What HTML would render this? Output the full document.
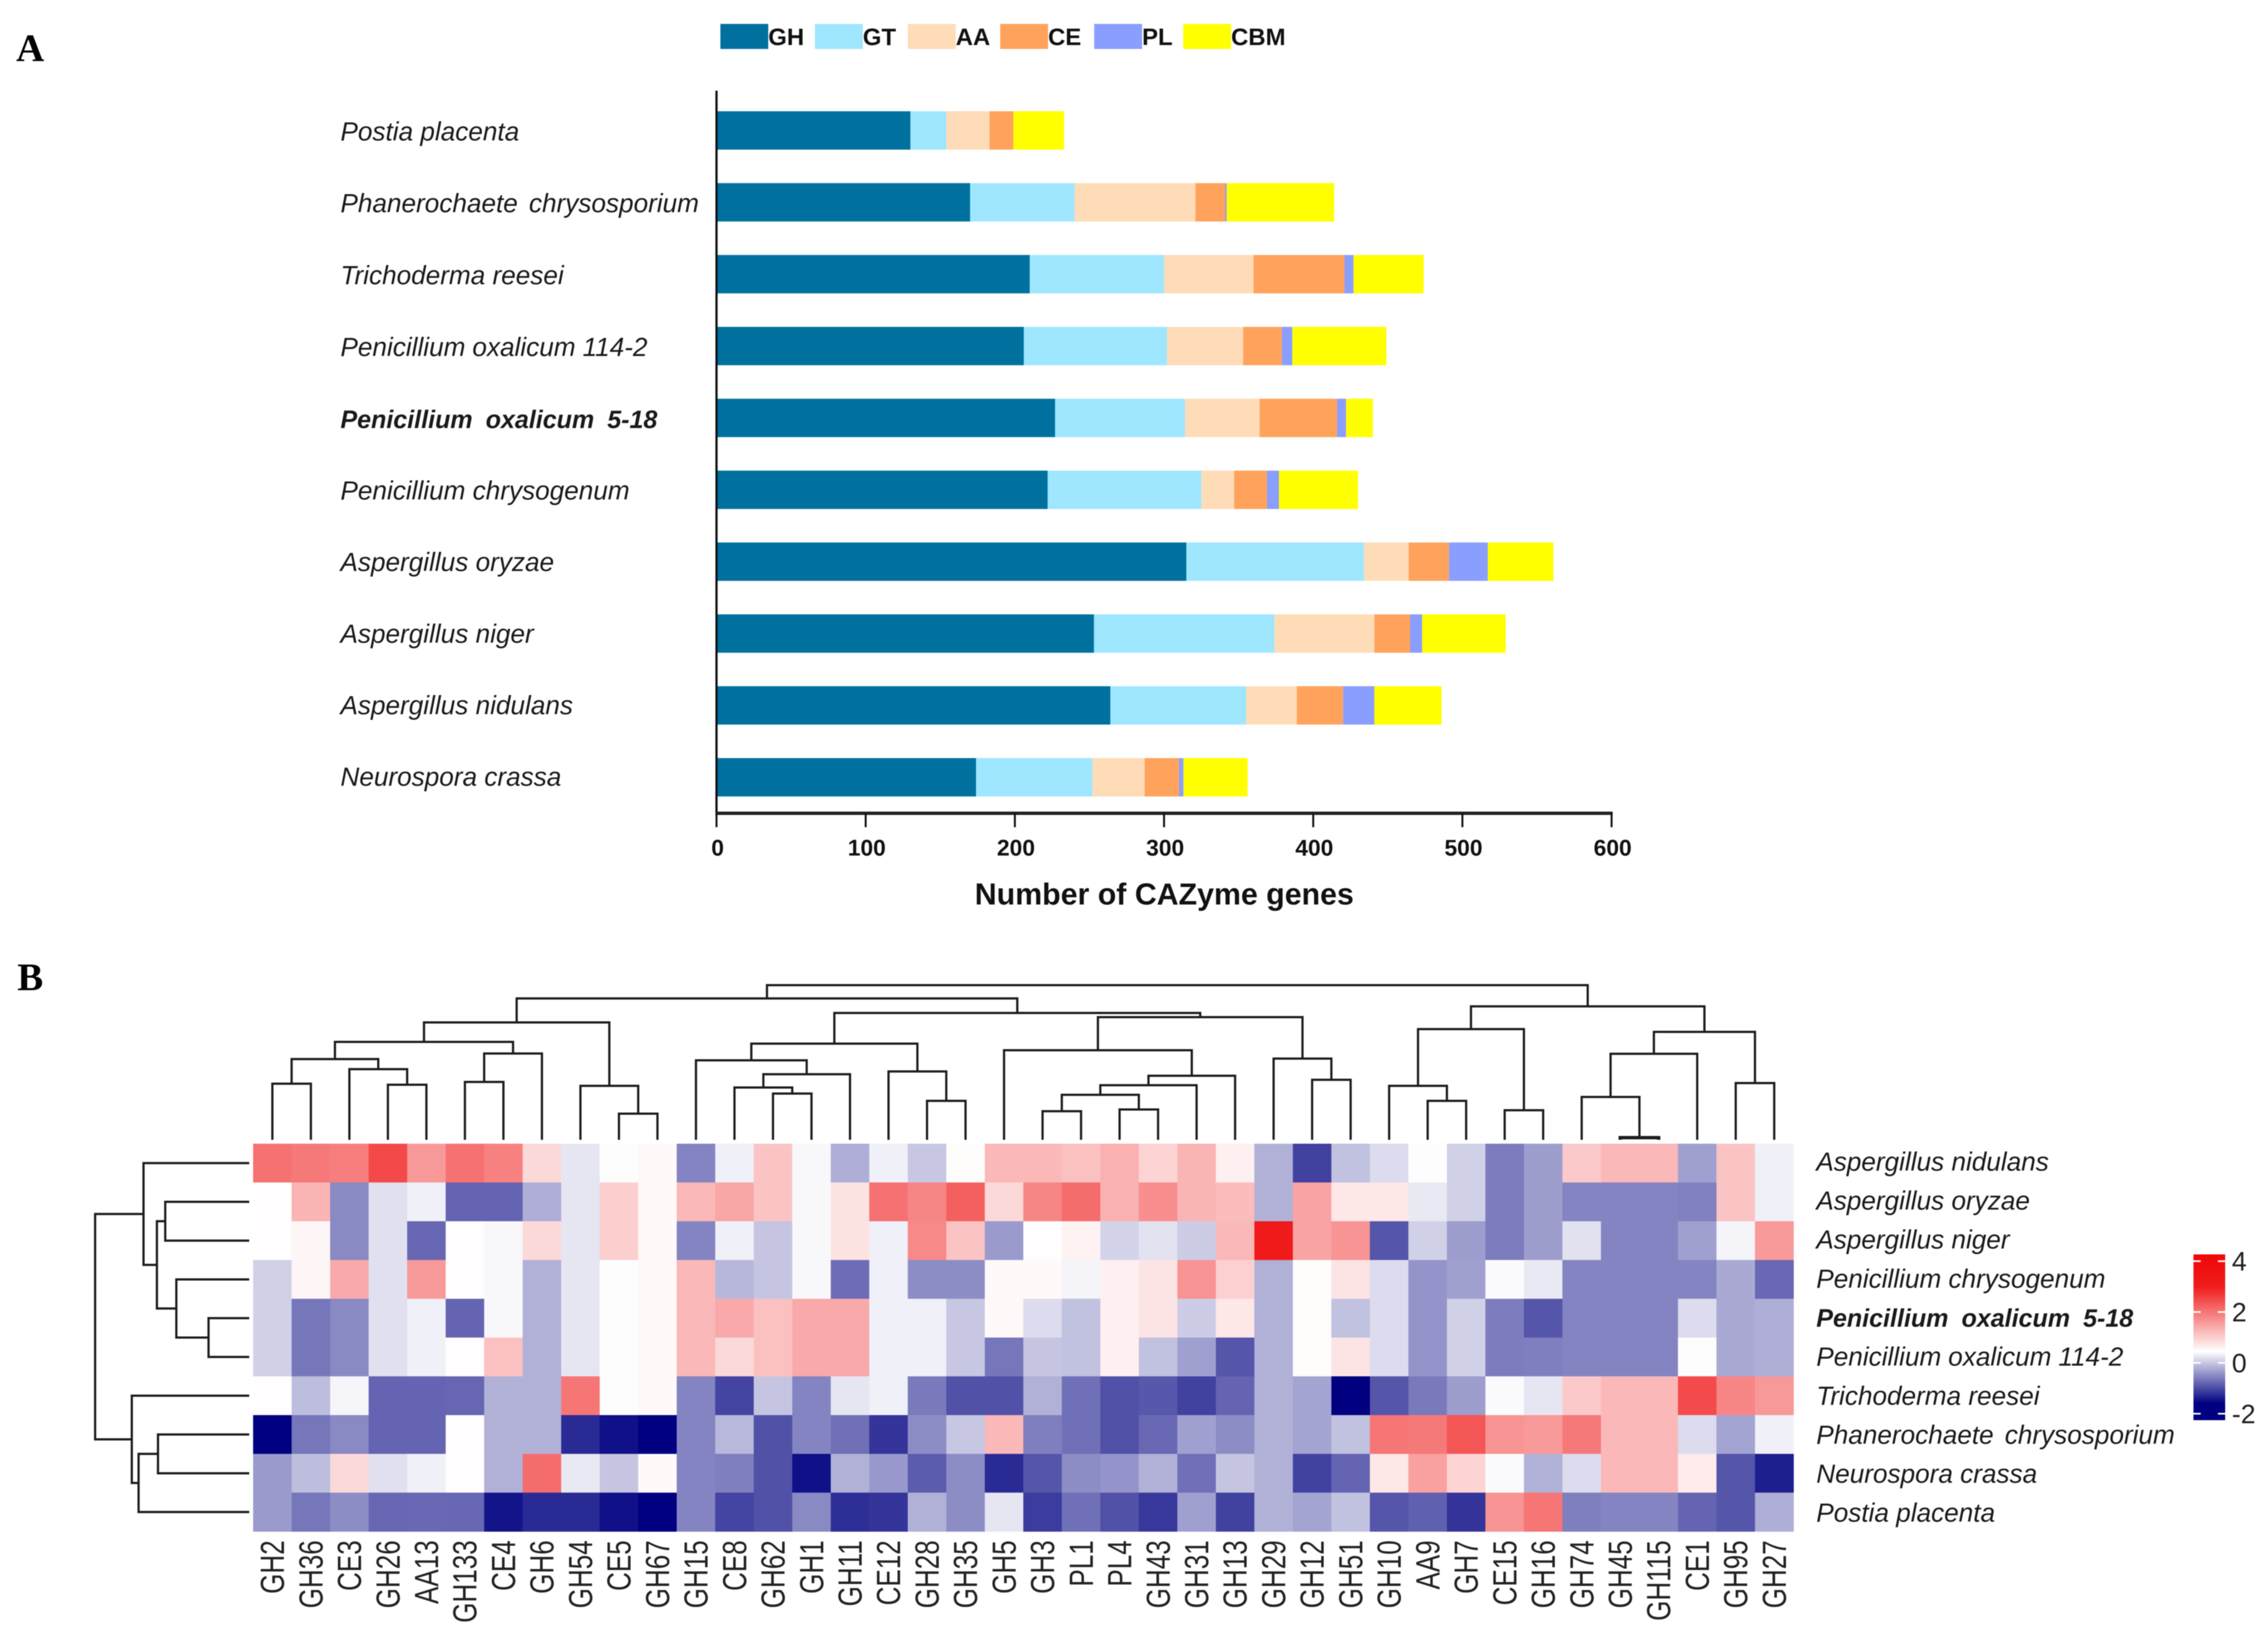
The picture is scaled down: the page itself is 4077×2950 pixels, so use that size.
<!DOCTYPE html>
<html lang="en">
<head>
<meta charset="utf-8">
<title>CAZyme gene counts and heatmap</title>
<style>
  html, body { margin: 0; padding: 0; background: #fff; width: 4077px; height: 2950px; overflow: hidden; }
  svg { display: block; filter: blur(0.8px); font-family: "Liberation Sans", sans-serif; }
</style>
</head>
<body>
<svg id="figure" xmlns="http://www.w3.org/2000/svg" width="4077" height="2950" viewBox="0 0 4077 2950">
  <rect x="0" y="0" width="4077" height="2950" fill="#ffffff"/>
  <text x="29" y="110" font-family="'Liberation Serif', serif" font-weight="700" font-size="70" fill="#000">A</text>
  <text x="31" y="1780" font-family="'Liberation Serif', serif" font-weight="700" font-size="70" fill="#000">B</text>
  <text x="2093" y="1626" text-anchor="middle" font-weight="700" font-size="54.5" fill="#111">Number of CAZyme genes</text>
  <g id="bar-chart"></g>
  <g id="heatmap"></g>
  <g id="col-dendro"></g>
  <g id="row-dendro"></g>
  <g id="colorbar"></g>
</svg>
<script>
// ---------- Panel A data ----------
const barSpecies = ["Postia placenta","Phanerochaete chrysosporium","Trichoderma reesei","Penicillium oxalicum 114-2","Penicillium oxalicum 5-18","Penicillium chrysogenum","Aspergillus oryzae","Aspergillus niger","Aspergillus nidulans","Neurospora crassa"];
const seriesNames = ["GH","GT","AA","CE","PL","CBM"];
const ghCounts  = [130,170,210,206,227,222,315,253,264,174];
const gtCounts  = [24,70,90,96,87,103,119,121,91,78];
const aaCounts  = [29,81,60,51,50,22,30,67,34,35];
const ceCounts  = [16,20,61,26,52,22,27,24,31,23];
const plCounts  = [0,1,6,7,6,8,26,8,21,3];
const cbmCounts = [34,72,47,63,18,53,44,56,45,43];
const xTickLabels = [0,100,200,300,400,500,600];

// ---------- Panel B data ----------
const heatGenes = ["GH2","GH36","CE3","GH26","AA13","GH133","CE4","GH6","GH54","CE5","GH67","GH15","CE8","GH62","GH1","GH11","CE12","GH28","GH35","GH5","GH3","PL1","PL4","GH43","GH31","GH13","GH29","GH12","GH51","GH10","AA9","GH7","CE15","GH16","GH74","GH45","GH115","CE1","GH95","GH27"];
const heatSpecies = ["Aspergillus nidulans","Aspergillus oryzae","Aspergillus niger","Penicillium chrysogenum","Penicillium oxalicum 5-18","Penicillium oxalicum 114-2","Trichoderma reesei","Phanerochaete chrysosporium","Neurospora crassa","Postia placenta"];
const heatNidulans = [2.05,1.95,1.9,2.5,1.6,2.05,1.87,.88,.25,.43,.52,-.54,.33,1.11,.39,-.2,.33,0,.48,1.25, 1.25,1.15,1.33,.93,1.29,.62,-.18,-1.08,-.05,.17,.43,.07,-.6,-.34,1.06,1.25,1.25,-.31,1.11,.33];
const heatOryzae = [.47,1.29,-.5,.2,.33,-.8,-.8,-.2,.25,1,.52,1.25,1.45,1.11,.39,.78,2.05,1.82,2.24,.88, 1.82,2.1,1.33,1.72,1.29,1.2,-.17,1.47,.72,.72,.27,.07,-.6,-.34,-.54,-.54,-.54,-.56,1.11,.33];
const heatNiger = [.47,.55,-.5,.2,-.77,.47,.39,.88,.25,1,.52,-.54,.33,-.02,.39,.78,.33,1.77,1.11,-.36, .47,.6,.1,.22,.04,1.25,3.1,1.47,1.65,-.92,.07,-.34,-.6,-.34,.21,-.54,-.54,-.31,.36,1.58];
const heatChrysogenum = [.07,.55,1.42,.2,1.6,.47,.39,-.18,.25,.43,.52,1.25,-.13,-.02,.39,-.72,.33,-.47,-.47,.52, .52,.36,.62,.75,1.65,.98,-.18,.48,.75,.17,-.41,-.31,.42,.27,-.54,-.54,-.54,-.54,-.24,-.76];
const heatOxalicum518 = [.07,-.65,-.5,.2,.33,-.8,.39,-.18,.25,.43,.52,1.25,1.42,1.15,1.42,1.42,.33,.33,0,.52, .17,-.05,.62,.75,.04,.72,-.18,.48,-.05,.17,-.41,.07,-.6,-.92,-.54,-.54,-.54,.17,-.24,-.2];
const heatOxalicum114 = [.07,-.65,-.5,.2,.33,.47,1.15,-.18,.25,.43,.52,1.25,.88,1.15,1.42,1.42,.33,.33,0,-.65, -.02,-.05,.62,-.05,-.31,-.92,-.18,.48,.75,.17,-.41,.07,-.6,-.58,-.54,-.54,-.54,.43,-.24,-.2];
const heatReesei = [.47,-.08,.37,-.8,-.8,-.78,-.18,-.18,2,.43,.52,-.54,-1.05,-.02,-.54,.25,.33,-.62,-.95,-.95, -.18,-.7,-.95,-.9,-1.08,-.8,-.18,-.28,-1.7,-.92,-.63,-.34,.42,.25,1.06,1.25,1.25,2.47,1.82,1.6];
const heatPhanerochaete = [-1.7,-.65,-.5,-.8,-.8,.47,-.18,-.18,-1.26,-1.47,-1.7,-.54,-.12,-.95,-.54,-.7,-1.18,-.47,0,1.25, -.58,-.7,-.95,-.76,-.31,-.47,-.18,-.28,-.05,2,1.95,2.35,1.65,1.6,1.95,1.25,1.25,.17,-.28,.33];
const heatNeurospora = [-.36,-.08,.88,.2,.33,.47,-.18,2.1,.27,-.02,.52,-.54,-.58,-.95,-1.47,-.18,-.38,-.86,-.47,-1.26, -.92,-.47,-.41,-.18,-.7,-.02,-.18,-1.08,-.8,.72,1.52,.93,.42,-.17,.17,1.25,1.25,.66,-.92,-1.36];
const heatPostia = [-.36,-.65,-.47,-.77,-.76,-.77,-1.44,-1.26,-1.26,-1.47,-1.7,-.54,-1.05,-.95,-.5,-1.23,-1.18,-.18,-.47,.25, -1.12,-.7,-.95,-1.15,-.31,-1.08,-.18,-.28,-.05,-.92,-.83,-1.18,1.65,2,-.58,-.54,-.54,-.8,-.92,-.2];
const colorbarTicks = [4,2,0,-2];

// Dendrograms: [left, right, merge height], height 100 = root
const columnTree = [
  [
    [
      [
        [
          [["GH2","GH36",36.3], ["CE3",["GH26","AA13",35.6],45.7], 52.2],
          [["GH133","CE4",37.4], "GH6", 55.8],
          63.3
        ],
        ["GH54",["CE5","GH67",16.9],34.9],
        75.9
      ],
      [
        [
          ["GH15",[["CE8",["GH62","GH1",29.9],33.8],"GH11",42.4],51.4],
          ["CE12",["GH28","GH35",25.2],44.2],
          62.2
        ],
        [
          ["GH5",[[[["GH3","PL1",18.5],["PL4","GH43",19.6],29.1],"GH31",35.3],"GH13",41.4],57.9],
          ["GH29",["GH12","GH51",38.8],52.5],
          79.3
        ],
        82
      ],
      91.4
    ],
    [
      [["GH10",["AA9","GH7",25.2],34.9],["CE15","GH16",19.1],71.6],
      [[["GH74",["GH45","GH115",1.4],27.7],"CE1",55.6],["GH95","GH27",36.7],69.8],
      86.3
    ],
    100
  ]
][0];
const rowTree = [
  ["Aspergillus nidulans",
    [["Aspergillus oryzae","Aspergillus niger",54.5],
     ["Penicillium chrysogenum",["Penicillium oxalicum 5-18","Penicillium oxalicum 114-2",26.4],47.3],59.9],
    68.6],
  ["Trichoderma reesei",
    [["Phanerochaete chrysosporium","Neurospora crassa",59.2],"Postia placenta",71.8],
    76.2],
  100
];

// ---------- Helpers ----------
const NS = "http://www.w3.org/2000/svg";
function make(parentId, tag) {
  const el = document.createElementNS(NS, tag);
  document.getElementById(parentId).appendChild(el);
  return el;
}
const seriesColors = ["#00719f","#9fe6ff","#ffdcb8","#ffa35c","#8a9eff","#ffff00"];
const wordGaps = {"Phanerochaete chrysosporium":7,"Penicillium oxalicum 114-2":-0.5,"Penicillium chrysogenum":0,"Penicillium oxalicum 5-18":11};
function setSpeciesStyle(el, name) {
  el.setAttribute("font-style", "italic");
  el.setAttribute("fill", "#1a1a1a");
  el.setAttribute("font-size", name === "Penicillium oxalicum 5-18" ? "45" : "47");
  if (name === "Penicillium oxalicum 5-18") el.setAttribute("font-weight", "700");
  el.setAttribute("word-spacing", String(wordGaps[name] || 0));
  el.textContent = name;
}

// ---------- Panel A axes ----------
const xBar = v => 1288 + v * (2897 - 1288) / 600;
const yBar = i => 234.5 + i * 129.2;
const barHeight = 69;
const seriesValues = [ghCounts, gtCounts, aaCounts, ceCounts, plCounts, cbmCounts];

barSpecies.forEach((name, i) => {
  let total = 0;
  seriesNames.forEach((series, s) => {
    const value = seriesValues[s][i];
    const rect = make("bar-chart", "rect");
    
    
    rect.setAttribute("x", xBar(total));
    rect.setAttribute("y", yBar(i) - barHeight / 2);
    rect.setAttribute("width", xBar(total + value) - xBar(total));
    rect.setAttribute("height", barHeight);
    rect.setAttribute("fill", seriesColors[s]);
    total += value;
  });
  const label = make("bar-chart", "text");
  
  
  label.setAttribute("x", 612);
  label.setAttribute("y", yBar(i) + 18 - Math.max(0, i - 4) * 0.55);
  setSpeciesStyle(label, name);
});

const yAxisLine = make("bar-chart", "line");


yAxisLine.setAttribute("x1", 1288);
yAxisLine.setAttribute("x2", 1288);
yAxisLine.setAttribute("y1", 163);
yAxisLine.setAttribute("y2", 1462);
yAxisLine.setAttribute("stroke", "#111");
yAxisLine.setAttribute("stroke-width", 4);

const xAxisLine = make("bar-chart", "line");


xAxisLine.setAttribute("x1", xBar(0) - 2);
xAxisLine.setAttribute("x2", xBar(600) + 2);
xAxisLine.setAttribute("y1", 1462);
xAxisLine.setAttribute("y2", 1462);
xAxisLine.setAttribute("stroke", "#222");
xAxisLine.setAttribute("stroke-width", 6);

xTickLabels.forEach(t => {
  const tick = make("bar-chart", "line");
  
  
  tick.setAttribute("x1", xBar(t));
  tick.setAttribute("x2", xBar(t));
  tick.setAttribute("y1", 1462);
  tick.setAttribute("y2", 1487);
  tick.setAttribute("stroke", "#111");
  tick.setAttribute("stroke-width", 3.5);
  const txt = make("bar-chart", "text");
  
  
  txt.setAttribute("x", xBar(t) + 2);
  txt.setAttribute("y", 1538);
  txt.setAttribute("text-anchor", "middle");
  txt.setAttribute("font-weight", "700");
  txt.setAttribute("font-size", "41");
  txt.setAttribute("fill", "#111");
  txt.textContent = t;
});

// Legend
const legendLeft = [1295, 1465, 1632, 1798, 1967, 2127];
seriesNames.forEach((series, s) => {
  const swatch = make("bar-chart", "rect");
  
  
  swatch.setAttribute("x", legendLeft[s]);
  swatch.setAttribute("y", 43);
  swatch.setAttribute("width", 86);
  swatch.setAttribute("height", 45);
  swatch.setAttribute("fill", seriesColors[s]);
  const txt = make("bar-chart", "text");
  
  
  txt.setAttribute("x", legendLeft[s] + 86);
  txt.setAttribute("y", 81);
  txt.setAttribute("font-weight", "700");
  txt.setAttribute("font-size", "43");
  txt.setAttribute("fill", "#111");
  txt.textContent = series;
});

// ---------- Panel B ----------
const xCell = j => 455 + j * (3224 - 455) / heatGenes.length;
const yCell = i => 2056 + i * (2753 - 2056) / heatSpecies.length;
const cellW = (3224 - 455) / heatGenes.length;
const cellH = (2753 - 2056) / heatSpecies.length;
const heatRows = [heatNidulans, heatOryzae, heatNiger, heatChrysogenum, heatOxalicum518, heatOxalicum114, heatReesei, heatPhanerochaete, heatNeurospora, heatPostia];

function colorFor(v) {
  const stops = [[-1.6,[0,0,128]],[0.45,[255,255,255]],[3,[240,28,28]],[4.3,[240,6,6]]];
  if (v <= stops[0][0]) return "rgb(0,0,128)";
  for (let k = 1; k < stops.length; k++) {
    if (v <= stops[k][0]) {
      const t = (v - stops[k-1][0]) / (stops[k][0] - stops[k-1][0]);
      const c = stops[k-1][1].map((a, n) => Math.round(a + (stops[k][1][n] - a) * t));
      return "rgb(" + c.join(",") + ")";
    }
  }
  return "rgb(240,6,6)";
}

heatRows.forEach((row, i) => {
  row.forEach((value, j) => {
    const cell = make("heatmap", "rect");
    
    
    cell.setAttribute("x", xCell(j));
    cell.setAttribute("y", yCell(i));
    cell.setAttribute("width", cellW + 0.5);
    cell.setAttribute("height", cellH + 0.5);
    cell.setAttribute("fill", colorFor(value));
  });
});

heatGenes.forEach((gene, j) => {
  const x = xCell(j) + cellW / 2;
  const txt = make("heatmap", "text");
  
  
  txt.setAttribute("transform", "translate(" + (x + 21) + ",2769) rotate(-90) scale(0.78,1)");
  txt.setAttribute("text-anchor", "end");
  txt.setAttribute("font-size", "60");
  txt.setAttribute("fill", "#222");
  txt.textContent = gene;
});

heatSpecies.forEach((name, i) => {
  const txt = make("heatmap", "text");
  
  
  txt.setAttribute("x", 3265);
  txt.setAttribute("y", yCell(i) + cellH / 2 + 13.5 + i * 0.45);
  setSpeciesStyle(txt, name);
});

// Dendrograms
const colHeightPos = h => 2049 - h * 2.78;
const rowHeightPos = h => 448 - h * 2.77;

function drawColumnNode(node) {
  if (typeof node === "string") {
    return { pos: xCell(heatGenes.indexOf(node)) + cellW / 2, h: 0 };
  }
  const a = drawColumnNode(node[0]);
  const b = drawColumnNode(node[1]);
  const branch = make("col-dendro", "path");
  
  
  branch.setAttribute("d", "M" + a.pos + " " + colHeightPos(a.h) + "V" + colHeightPos(node[2]) + "H" + b.pos + "V" + colHeightPos(b.h));
  branch.setAttribute("fill", "none");
  branch.setAttribute("stroke", "#1c1c1c");
  branch.setAttribute("stroke-width", node[2] < 5 ? 6 : 4);
  return { pos: (a.pos + b.pos) / 2, h: node[2] };
}
function drawRowNode(node) {
  if (typeof node === "string") {
    return { pos: yCell(heatSpecies.indexOf(node)) + cellH / 2, h: 0 };
  }
  const a = drawRowNode(node[0]);
  const b = drawRowNode(node[1]);
  const branch = make("row-dendro", "path");
  
  
  branch.setAttribute("d", "M" + rowHeightPos(a.h) + " " + a.pos + "H" + rowHeightPos(node[2]) + "V" + b.pos + "H" + rowHeightPos(b.h));
  branch.setAttribute("fill", "none");
  branch.setAttribute("stroke", "#1c1c1c");
  branch.setAttribute("stroke-width", 4);
  return { pos: (a.pos + b.pos) / 2, h: node[2] };
}
drawColumnNode(columnTree);
drawRowNode(rowTree);

// Colour bar
const yBarScale = v => 2450 - v * 45.7;
const barTop = 2255, barBottom = 2553;
const defs = make("colorbar", "defs");
const grad = document.createElementNS(NS, "linearGradient");
defs.appendChild(grad);
grad.setAttribute("id", "cbGrad");
grad.setAttribute("x1", "0");
grad.setAttribute("x2", "0");
grad.setAttribute("y1", "0");
grad.setAttribute("y2", "1");
[4.27, 3, 0.45, -1.6, -2.25].forEach(v => {
  const stop = document.createElementNS(NS, "stop");
  grad.appendChild(stop);
  stop.setAttribute("offset", (yBarScale(v) - barTop) / (barBottom - barTop));
  stop.setAttribute("stop-color", colorFor(v));
});
const cbRect = make("colorbar", "rect");


cbRect.setAttribute("x", 3943);
cbRect.setAttribute("y", barTop);
cbRect.setAttribute("width", 57);
cbRect.setAttribute("height", barBottom - barTop);
cbRect.setAttribute("fill", "url(#cbGrad)");

colorbarTicks.forEach(t => {
  [[3943, 3956], [3987, 4000]].forEach(span => {
    const tick = make("colorbar", "line");
    
    
    tick.setAttribute("x1", span[0]);
    tick.setAttribute("x2", span[1]);
    tick.setAttribute("y1", yBarScale(t));
    tick.setAttribute("y2", yBarScale(t));
    tick.setAttribute("stroke", "#ffffff");
    tick.setAttribute("stroke-width", 3);
  });
  const txt = make("colorbar", "text");
  
  
  txt.setAttribute("x", 4012);
  txt.setAttribute("y", yBarScale(t) + 17);
  txt.setAttribute("font-size", "48");
  txt.setAttribute("fill", "#222");
  txt.textContent = t;
});
</script>
</body>
</html>
